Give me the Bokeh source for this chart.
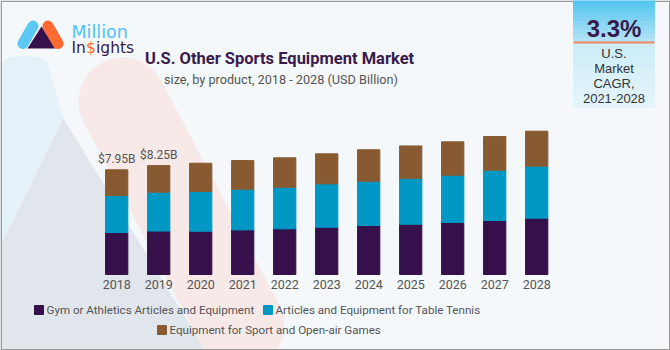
import numpy as np
from bokeh.plotting import figure
from bokeh.models import Range1d, ColumnDataSource
from bokeh.core.properties import value
from bokeh.embed import file_html
from bokeh.resources import INLINE

# ---------------- data ----------------
years = [2018, 2019, 2020, 2021, 2022, 2023, 2024, 2025, 2026, 2027, 2028]
year_labels = [str(y) for y in years]
gym_athletics = [3.18, 3.29, 3.28, 3.38, 3.46, 3.58, 3.71, 3.81, 3.94, 4.09, 4.27]
table_tennis = [2.80, 2.95, 3.01, 3.08, 3.15, 3.29, 3.36, 3.48, 3.58, 3.81, 3.94]
open_air_games = [1.95, 2.01, 2.14, 2.17, 2.23, 2.27, 2.38, 2.45, 2.53, 2.55, 2.65]
series_names = [
    "Gym or Athletics Articles and Equipment",
    "Articles and Equipment for Table Tennis",
    "Equipment for Sport and Open-air Games",
]
value_label_years = [2018, 2019]
value_labels = ["$7.95B", "$8.25B"]
cagr_value = "3.3%"
cagr_caption = ["U.S.", "Market", "CAGR,", "2021-2028"]
title_text = "U.S. Other Sports Equipment Market"
subtitle_text = "size, by product, 2018 - 2028 (USD Billion)"

# ---------------- style ----------------
BG = "#f4f8fb"
COLORS = ["#36104a", "#0097c4", "#875a31"]
DARK = "#3a1a4c"
GREY_TXT = "#555555"
NARROW = value("Roboto")
SANS = value("Liberation Sans")

W, H = 670, 350
X0_PX, STEP_PX = 116.2, 42.0      # centre of first bar, bar spacing
BASE_PX, PX_PER_B = 274.0, 13.2   # baseline (from top), pixels per billion

p = figure(
    width=W, height=H,
    x_range=Range1d(years[0] - X0_PX / STEP_PX, years[0] + (W - X0_PX) / STEP_PX),
    y_range=Range1d(-(H - BASE_PX) / PX_PER_B, BASE_PX / PX_PER_B),
    output_backend="svg", toolbar_location=None,
    x_axis_location=None, y_axis_location=None,
    min_border=0, outline_line_color=None,
    background_fill_color=BG, border_fill_color=BG,
)
p.grid.visible = False
p.extra_x_ranges = {"px": Range1d(0, W)}
p.extra_y_ranges = {"py": Range1d(H, 0)}
PX = dict(x_range_name="px", y_range_name="py")

# ---------------- faint background decoration ----------------
p.patch(x=[0, 8, 25, 40, 47, 63, 0], y=[62, 57, 55, 57, 63, 118, 245],
        color="#e4f1f9", line_color=None, **PX)
p.patch(x=[63, 205, 0, 0], y=[118, 350, 350, 245],
        color="#e1e5ec", line_color=None, **PX)
p.line(x=[122, 240], y=[101, 325], line_width=88, line_cap="round",
       line_color="#f6e9e7", **PX)

# ---------------- stacked bars ----------------
src = ColumnDataSource(dict(
    year=years, gym=gym_athletics, tt=table_tennis, oa=open_air_games,
))
p.vbar_stack(["gym", "tt", "oa"], x="year", width=0.53, color=COLORS, source=src)

# year labels
p.text(x=years, y=[0] * len(years), text=year_labels, y_offset=10,
       text_align="center", text_baseline="middle",
       text_font=NARROW, text_font_size=value("12.5px"), text_color=GREY_TXT)

# value labels above first two bars
totals = [g + t + o for g, t, o in zip(gym_athletics, table_tennis, open_air_games)]
lab_y = [totals[years.index(y)] for y in value_label_years]
p.text(x=value_label_years, y=lab_y, text=value_labels, y_offset=-11,
       text_align="center", text_baseline="middle",
       text_font=NARROW, text_font_size=value("12px"), text_color=GREY_TXT)

# ---------------- legend ----------------
leg_x = [38.5, 267.5, 161.5]
leg_y = [309.5, 309.5, 329.5]
p.rect(x=leg_x, y=leg_y, width=9, height=9, width_units="screen",
       height_units="screen", color=COLORS, **PX)
p.text(x=[46, 275, 169], y=leg_y, text=series_names,
       text_align="left", text_baseline="middle",
       text_font=NARROW, text_font_size=value("11.6px"), text_color=GREY_TXT, **PX)

# ---------------- titles ----------------
p.text(x=[279], y=[58], text=[title_text], text_align="center",
       text_baseline="middle", text_font=NARROW, text_font_style="bold",
       text_font_size=value("16.5px"), text_color=DARK, **PX)
p.text(x=[280.5], y=[79], text=[subtitle_text], text_align="center",
       text_baseline="middle", text_font=NARROW,
       text_font_size=value("12.7px"), text_color=GREY_TXT, **PX)

# ---------------- logo ----------------
p.patch(x=[41, 27, 55], y=[26, 48, 48], color="#36104a", line_color=None, **PX)
p.line(x=[32.5, 22.5], y=[25.5, 43], line_width=11, line_cap="round",
       line_color="#5bc8f5", **PX)
p.line(x=[47.5, 57.5], y=[25.5, 43], line_width=11, line_cap="round",
       line_color="#ff6a33", **PX)
p.text(x=[71], y=[31.5], text=["Million"], text_align="left", text_baseline="alphabetic",
       text_font=value("DejaVu Sans"), text_font_size=value("17.5px"),
       text_color="#4fc3f7", **PX)
p.text(x=[71, 85.5, 95.5], y=[47, 47, 47], text=["In", "$", "ights"],
       text_align="left", text_baseline="alphabetic",
       text_font=value("DejaVu Sans"), text_font_size=value("15.5px"),
       text_color=[DARK, "#ff6a33", DARK], **PX)

# ---------------- frame border ----------------
p.multi_line(xs=[[573, 0.75, 0.75, 669.25, 669.25, 654]],
             ys=[[0.75, 0.75, 349.25, 349.25, 0.75, 0.75]],
             line_color="#9a9a9a", line_width=1.5, **PX)

# ---------------- CAGR box ----------------
def mix(c1, c2, t):
    a = np.array([int(c1[i:i + 2], 16) for i in (1, 3, 5)])
    b = np.array([int(c2[i:i + 2], 16) for i in (1, 3, 5)])
    c = (a + (b - a) * t).round().astype(int)
    return "#%02x%02x%02x" % tuple(c)

nb = 10
edges = np.linspace(0, 42, nb + 1)
p.quad(left=[573] * nb, right=[654] * nb, top=list(edges[:-1]), bottom=list(edges[1:]),
       color=[mix("#55c6f0", "#b2e2f6", i / (nb - 1)) for i in range(nb)], **PX)
edges2 = np.linspace(42, 107, nb + 1)
p.quad(left=[573] * nb, right=[654] * nb, top=list(edges2[:-1]), bottom=list(edges2[1:]),
       color=[mix("#cdedf9", "#e4f4fb", i / (nb - 1)) for i in range(nb)], **PX)
p.line(x=[573, 654], y=[42, 42], line_color="#f0845a", line_width=2, **PX)
p.text(x=[613.5], y=[28], text=[cagr_value], text_align="center", text_baseline="middle",
       text_font=SANS, text_font_style="bold", text_font_size=value("24px"),
       text_color=DARK, **PX)
p.text(x=[613.5] * 4, y=[53, 68, 83, 97.5], text=cagr_caption, text_align="center",
       text_baseline="middle", text_font=SANS, text_font_size=value("13px"),
       text_color="#333333", **PX)

open("out.html", "w").write(file_html(p, INLINE))
